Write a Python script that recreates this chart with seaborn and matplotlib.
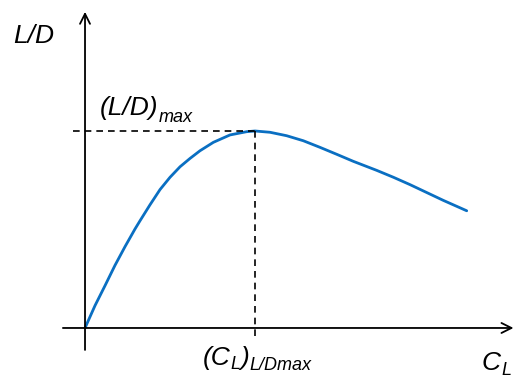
import matplotlib
matplotlib.use("Agg")
import matplotlib.pyplot as plt
import seaborn as sns
import pandas as pd

# Lift coefficient and lift-to-drag ratio along the curve
cl_values = [0, 0.059, 0.118, 0.176, 0.235, 0.294, 0.324, 0.382, 0.441, 0.5,
             0.559, 0.618, 0.676, 0.755, 0.853, 0.951, 1.0, 1.088, 1.186,
             1.284, 1.382, 1.481, 1.578, 1.716, 1.814, 1.912, 2.01, 2.108,
             2.206, 2.245]
ld_values = [0, 2.28, 4.31, 6.35, 8.25, 10.05, 10.9, 12.5, 14.05, 15.3,
             16.37, 17.22, 17.99, 18.85, 19.6, 19.93, 20.0, 19.87, 19.52,
             19.01, 18.34, 17.63, 16.92, 16.0, 15.3, 14.55, 13.75, 12.95,
             12.2, 11.9]
cl_opt = 1.0
ld_max = 20.0

sns.set_style("white")
plt.rcParams['font.family'] = ['Liberation Sans', 'DejaVu Sans']

df = pd.DataFrame({"CL": cl_values, "LD": ld_values})

W, H = 515, 379
fig = plt.figure(figsize=(W / 100, H / 100), dpi=100)
ax = fig.add_axes([0, 0, 1, 1])
ax.set_xlim(-0.5, 2.529)
ax.set_ylim(-5.18, 33.3)
ax.axis("off")

sns.lineplot(data=df, x="CL", y="LD", ax=ax, color="#0a6fc2", lw=2.0,
             sort=False, legend=False)

# Axes drawn as arrows
ax.annotate("", xy=(0, 32.1), xytext=(0, -2.23),
            arrowprops=dict(arrowstyle="->", lw=1.3, color="black",
                            mutation_scale=18, shrinkA=0, shrinkB=0))
ax.annotate("", xy=(2.52, 0), xytext=(-0.13, 0),
            arrowprops=dict(arrowstyle="->", lw=1.3, color="black",
                            mutation_scale=18, shrinkA=0, shrinkB=0))

# Guide lines to the maximum
ax.plot([-0.07, cl_opt], [ld_max, ld_max], color="black", lw=1.2,
        dashes=(4, 3))
ax.plot([cl_opt, cl_opt], [ld_max, -1.25], color="black", lw=1.2,
        dashes=(4, 3))

renderer = fig.canvas.get_renderer()


def label(x_px, base_px, pieces):
    """Write italic text pieces one after another; each piece is
    (text, fontsize, baseline shift in pixels)."""
    x = x_px
    for s, size, dy in pieces:
        t = fig.text(x / W, 1 - (base_px + dy) / H, s, fontsize=size,
                     fontstyle="italic", ha="left", va="baseline",
                     color="black")
        x += t.get_window_extent(renderer).width


big, small = 19, 13
label(13, 43, [("L/D", big, 0)])
label(100, 115, [("(L/D)", big, 0), ("max", small, 7)])
label(203, 365, [("(C", big, 0), ("L", small, 4), (")", big, 0),
                 ("L/Dmax", small, 5)])
label(482, 370, [("C", big, 0), ("L", small, 5)])

fig.savefig("out.png", dpi=100)
